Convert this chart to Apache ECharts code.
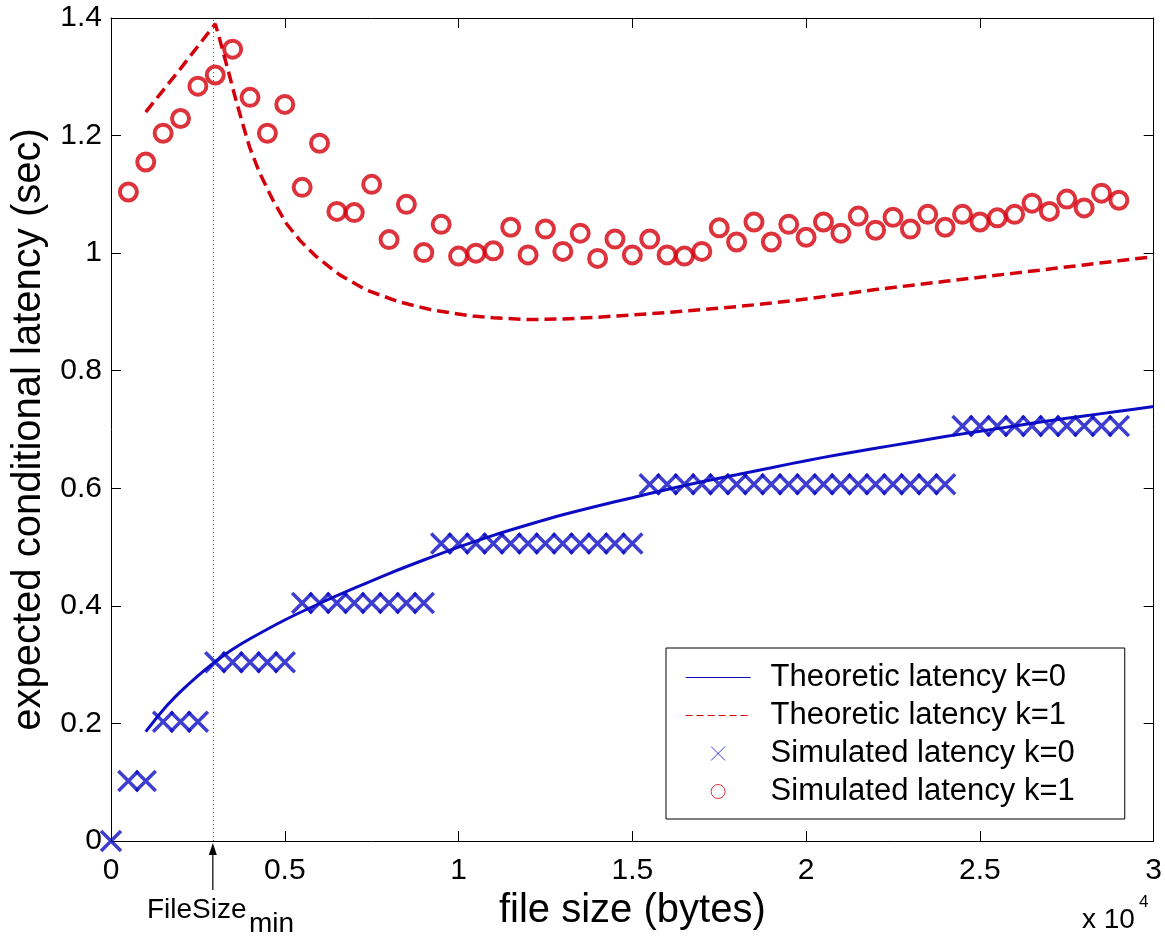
<!DOCTYPE html>
<html>
<head>
<meta charset="utf-8">
<title>expected conditional latency</title>
<script src="https://cdn.jsdelivr.net/npm/echarts@6/dist/echarts.min.js"></script>
<style>
  html, body { margin: 0; padding: 0; background: #fff; }
  #main { width: 1165px; height: 941px; }
</style>
</head>
<body>
<div id="main"></div>
<script>
var FONT = '"Liberation Sans", Arial, Helvetica, sans-serif';
var BLUE = '#0c0cc4';
var RED = '#d3000b';

// vertical marker
var fileSizeMin = 2930;

// theoretic latency k=0 (solid)
var theoryX0 = [1000, 1500, 2000, 2500, 3000, 3500, 4000, 5000, 6000, 7000, 8000, 9000, 10000,
  11000, 12000, 13000, 14000, 15000, 16000, 17000, 18000, 19000, 20000, 21000, 22000,
  23000, 24000, 25000, 26000, 27000, 28000, 29000, 30000];
var theoryY0 = [0.186, 0.223, 0.254, 0.281, 0.305, 0.326, 0.344, 0.376, 0.404, 0.43, 0.455, 0.478, 0.5,
  0.52, 0.538, 0.555, 0.57, 0.584, 0.598, 0.611, 0.623, 0.635, 0.647, 0.658, 0.668,
  0.678, 0.688, 0.697, 0.706, 0.715, 0.723, 0.731, 0.739];

// theoretic latency k=1 (dashed)
var theoryX1 = [1000, 1500, 2000, 2500, 3000, 3080, 3370, 3560, 3760, 3990, 4280, 4660, 5050, 5430,
  5910, 6580, 7350, 8300, 9260, 10410, 11000, 12000, 13000, 14000, 15000, 16000, 17000,
  18000, 19000, 20000, 21000, 22000, 23000, 24000, 25000, 26000, 27000, 28000, 29000, 30000];
var theoryY1 = [1.24, 1.277, 1.314, 1.352, 1.39, 1.374, 1.311, 1.268, 1.226, 1.18, 1.136, 1.09, 1.05, 1.022,
  0.994, 0.963, 0.937, 0.917, 0.903, 0.893, 0.89, 0.887, 0.888, 0.891, 0.895, 0.899, 0.904,
  0.909, 0.915, 0.922, 0.93, 0.938, 0.945, 0.952, 0.959, 0.966, 0.973, 0.98, 0.987, 0.994];

// simulated latency k=0 (crosses)
var simX0 = [0, 500, 1000, 1500, 2000, 2500, 3000, 3500, 4000, 4500, 5000, 5500, 6000, 6500, 7000,
  7500, 8000, 8500, 9000, 9500, 10000, 10500, 11000, 11500, 12000, 12500, 13000, 13500, 14000,
  14500, 15000, 15500, 16000, 16500, 17000, 17500, 18000, 18500, 19000, 19500, 20000, 20500,
  21000, 21500, 22000, 22500, 23000, 23500, 24000, 24500, 25000, 25500, 26000, 26500, 27000,
  27500, 28000, 28500, 29000];
var simY0 = [0, 0.102, 0.102, 0.203, 0.203, 0.203, 0.304, 0.304, 0.304, 0.304, 0.304,
  0.405, 0.405, 0.405, 0.405, 0.405, 0.405, 0.405, 0.405,
  0.506, 0.506, 0.506, 0.506, 0.506, 0.506, 0.506, 0.506, 0.506, 0.506, 0.506, 0.506,
  0.607, 0.607, 0.607, 0.607, 0.607, 0.607, 0.607, 0.607, 0.607, 0.607, 0.607, 0.607,
  0.607, 0.607, 0.607, 0.607, 0.607, 0.607,
  0.706, 0.706, 0.706, 0.706, 0.706, 0.706, 0.706, 0.706, 0.706, 0.706];

// simulated latency k=1 (circles)
var simX1 = [500, 1000, 1500, 2000, 2500, 3000, 3500, 4000, 4500, 5000, 5500, 6000, 6500, 7000,
  7500, 8000, 8500, 9000, 9500, 10000, 10500, 11000, 11500, 12000, 12500, 13000, 13500, 14000,
  14500, 15000, 15500, 16000, 16500, 17000, 17500, 18000, 18500, 19000, 19500, 20000, 20500,
  21000, 21500, 22000, 22500, 23000, 23500, 24000, 24500, 25000, 25500, 26000, 26500, 27000,
  27500, 28000, 28500, 29000];
var simY1 = [1.104, 1.155, 1.204, 1.229, 1.284, 1.303, 1.347, 1.265, 1.204, 1.253,
  1.112, 1.187, 1.071, 1.069, 1.117, 1.023, 1.083, 1.001, 1.049, 0.995,
  1.000, 1.004, 1.044, 0.997, 1.041, 1.003, 1.034, 0.991, 1.024, 0.997,
  1.024, 0.997, 0.995, 1.003, 1.043, 1.019, 1.053, 1.019, 1.049, 1.027,
  1.053, 1.034, 1.063, 1.039, 1.061, 1.041, 1.066, 1.044, 1.066, 1.053,
  1.060, 1.066, 1.085, 1.071, 1.092, 1.077, 1.102, 1.090];

var seriesNames = ['Theoretic latency k=0', 'Theoretic latency k=1',
  'Simulated latency k=0', 'Simulated latency k=1'];

function zip(xs, ys) {
  return xs.map(function (x, i) { return [x, ys[i]]; });
}

var CROSS = 'path://M0,0L10,10M10,0L0,10';

var chart = echarts.init(document.getElementById('main'), null, { renderer: 'canvas' });

var tickStyle = { inside: true, length: 10, lineStyle: { color: '#000', width: 1 } };
var lineStyleAxis = { show: true, onZero: false, lineStyle: { color: '#000', width: 1 } };
// hide the dot echarts puts in the middle of a line legend icon
var noDot = { color: 'rgba(0,0,0,0)', borderWidth: 0, opacity: 0 };

var option = {
  backgroundColor: '#fff',
  animation: false,
  textStyle: { fontFamily: FONT },
  grid: { left: 111, right: 10, top: 18, bottom: 100, containLabel: false },
  xAxis: [{
    type: 'value', min: 0, max: 30000, interval: 5000, position: 'bottom',
    name: 'file size (bytes)', nameLocation: 'middle', nameGap: 48,
    nameTextStyle: { fontSize: 40, color: '#000', fontFamily: FONT },
    axisLine: lineStyleAxis, axisTick: tickStyle, splitLine: { show: false },
    axisLabel: {
      fontSize: 30, color: '#000', margin: 15, fontFamily: FONT,
      formatter: function (v) { return String(v / 10000); }
    }
  }, {
    type: 'value', min: 0, max: 30000, interval: 5000, position: 'top',
    axisLine: lineStyleAxis, axisTick: tickStyle, splitLine: { show: false },
    axisLabel: { show: false }
  }],
  yAxis: [{
    type: 'value', min: 0, max: 1.4, interval: 0.2, position: 'left',
    name: 'expected conditional latency (sec)', nameLocation: 'middle', nameGap: 56,
    nameTextStyle: { fontSize: 40, color: '#000', fontFamily: FONT },
    axisLine: lineStyleAxis, axisTick: tickStyle, splitLine: { show: false },
    axisLabel: {
      fontSize: 30, color: '#000', margin: 9, fontFamily: FONT,
      formatter: function (v) { return String(+v.toFixed(1)); }
    }
  }, {
    type: 'value', min: 0, max: 1.4, interval: 0.2, position: 'right',
    axisLine: lineStyleAxis, axisTick: tickStyle, splitLine: { show: false },
    axisLabel: { show: false }
  }],
  legend: {
    orient: 'vertical', left: 666, top: 648,
    padding: [14, 50, 12, 19],
    itemWidth: 65, itemHeight: 14, itemGap: 7,
    borderColor: '#000', borderWidth: 1, backgroundColor: '#fff',
    textStyle: { fontSize: 31, color: '#000', fontFamily: FONT, lineHeight: 30, padding: [0, 0, 0, 15] },
    data: [
      { name: seriesNames[0], lineStyle: { width: 1.2 }, itemStyle: noDot },
      { name: seriesNames[1], lineStyle: { width: 1.2, type: [7, 4] }, itemStyle: noDot },
      { name: seriesNames[2], itemStyle: { borderWidth: 1 } },
      { name: seriesNames[3], itemStyle: { borderWidth: 1 } }
    ]
  },
  series: [{
    name: seriesNames[0], type: 'line', symbol: 'none', smooth: 0.3,
    data: zip(theoryX0, theoryY0),
    lineStyle: { color: BLUE, width: 3 }, itemStyle: { color: BLUE },
    z: 3,
    markLine: {
      silent: true, symbol: 'none', animation: false,
      label: { show: false },
      lineStyle: { type: [1, 3], color: '#555', width: 1 },
      data: [{ xAxis: fileSizeMin }]
    }
  }, {
    name: seriesNames[1], type: 'line', symbol: 'none', smooth: false,
    data: zip(theoryX1, theoryY1),
    lineStyle: { color: RED, width: 3.5, type: [12, 6] }, itemStyle: { color: RED },
    z: 3
  }, {
    name: seriesNames[2], type: 'scatter', symbol: CROSS, symbolSize: 20, clip: false,
    data: zip(simX0, simY0),
    itemStyle: { color: 'rgba(0,0,0,0)', borderColor: BLUE, borderWidth: 3.5 },
    z: 2
  }, {
    name: seriesNames[3], type: 'scatter', symbol: 'circle', symbolSize: 17, clip: false,
    data: zip(simX1, simY1),
    itemStyle: { color: 'rgba(0,0,0,0)', borderColor: RED, borderWidth: 4 },
    z: 2
  }]
};

chart.setOption(option);

// annotations under the x axis
var ax = chart.convertToPixel({ xAxisIndex: 0 }, fileSizeMin);
var axisY = chart.convertToPixel({ yAxisIndex: 0 }, 0);
chart.setOption({
  graphic: [{
    type: 'line', silent: true,
    shape: { x1: ax, y1: axisY + 49, x2: ax, y2: axisY + 12 },
    style: { stroke: '#000', lineWidth: 1.2 }
  }, {
    type: 'polygon', silent: true,
    shape: { points: [[ax, axisY + 2], [ax - 4, axisY + 14], [ax + 4, axisY + 14]] },
    style: { fill: '#000' }
  }, {
    type: 'text', silent: true, left: 147, top: 896,
    style: { text: 'FileSize', font: '28px ' + FONT, fill: '#000' }
  }, {
    type: 'text', silent: true, left: 249, top: 910,
    style: { text: 'min', font: '28px ' + FONT, fill: '#000' }
  }, {
    type: 'text', silent: true, left: 1082, top: 906,
    style: { text: 'x 10', font: '28px ' + FONT, fill: '#000' }
  }, {
    type: 'text', silent: true, left: 1139, top: 894,
    style: { text: '4', font: '17px ' + FONT, fill: '#000' }
  }]
});
</script>
</body>
</html>
